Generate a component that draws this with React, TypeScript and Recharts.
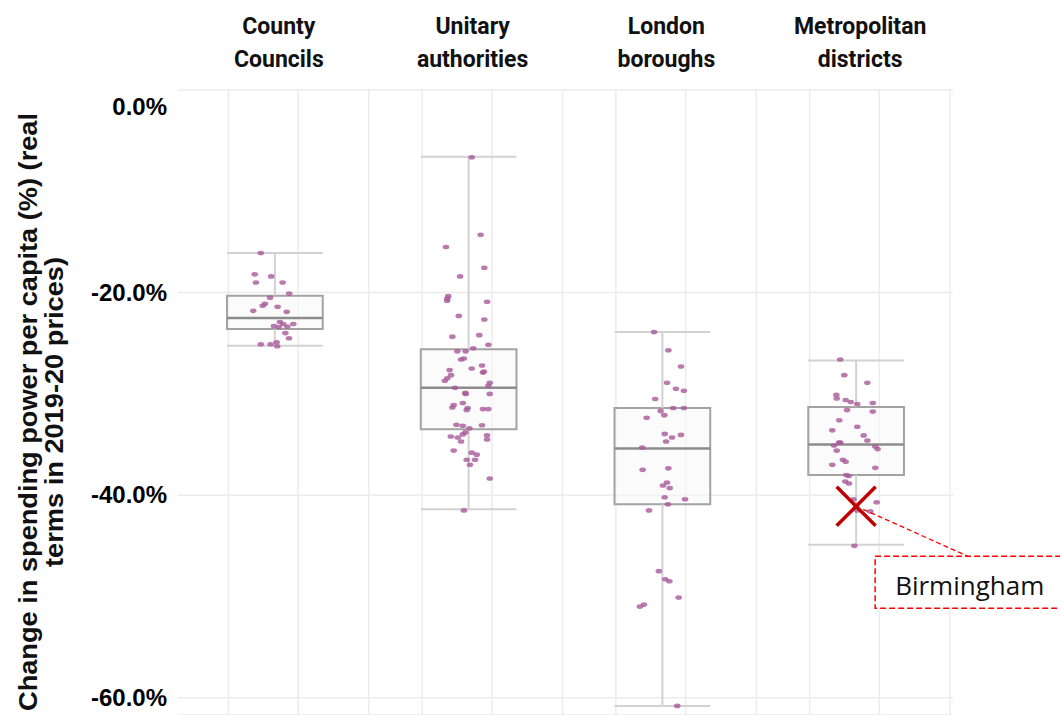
import {
  ComposedChart, Scatter, XAxis, YAxis, CartesianGrid,
  ReferenceArea, ReferenceLine,
} from 'recharts'

// categories along the top axis
const categories = ['County Councils', 'Unitary authorities', 'London boroughs', 'Metropolitan districts']
const yTicks = [0, -20, -40, -60]

// box plot stats (% change), one entry per category
const whiskerHigh = [-16.1, -6.6, -23.9, -26.7]
const upperQuartile = [-20.3, -25.6, -31.4, -31.3]
const medians = [-22.5, -29.4, -35.4, -35.0]
const lowerQuartile = [-23.6, -33.5, -40.9, -38.0]
const whiskerLow = [-25.25, -41.4, -60.8, -44.9]

// individual councils: [horizontal jitter, value]
const countyPoints: [number, number][] = [
  [-0.073, -16.1], [-0.104, -18.2], [-0.019, -18.4], [-0.098, -19.0], [0.04, -19.0],
  [0.074, -20.1], [-0.025, -20.5], [-0.051, -21.1], [-0.063, -21.3], [0.014, -21.4],
  [-0.111, -21.8], [0.061, -21.9], [0.026, -22.9], [0.043, -23.1], [0.095, -23.1],
  [-0.005, -23.3], [0.02, -23.4], [0.064, -23.35], [0.054, -24.0], [0.073, -24.5],
  [-0.073, -25.1], [-0.022, -25.1], [0.009, -24.9], [0.012, -25.3],
]
const unitaryPoints: [number, number][] = [
  [0.016, -6.65], [0.062, -14.3], [-0.117, -15.5], [0.081, -17.55], [-0.044, -18.4],
  [-0.105, -20.35], [-0.11, -20.6], [-0.111, -20.8], [0.095, -20.9], [-0.051, -22.3],
  [0.081, -22.65], [-0.084, -24.35], [0.055, -24.2], [0.102, -25.15], [0.024, -25.5],
  [-0.058, -25.8], [-0.015, -25.8], [-0.039, -26.6], [-0.025, -26.5], [0.016, -27.5],
  [0.069, -27.2], [0.079, -27.8], [0.074, -27.9], [-0.098, -27.65], [-0.091, -28.15],
  [-0.11, -28.45], [-0.123, -28.7], [0.109, -28.9], [0.102, -29.2], [-0.07, -29.4],
  [-0.017, -29.9], [-0.015, -30.0], [0.109, -30.0], [-0.03, -30.9], [-0.077, -31.1],
  [-0.084, -31.35], [-0.005, -31.4], [-0.01, -31.6], [0.074, -31.5], [0.102, -31.5],
  [-0.063, -33.05], [-0.03, -33.15], [0.069, -33.1], [0.004, -33.4], [-0.017, -33.8],
  [-0.03, -34.0], [-0.092, -34.2], [-0.056, -34.3], [-0.039, -34.7], [0.095, -34.1],
  [0.095, -34.5], [-0.077, -35.6], [0.016, -35.8], [0.042, -36.0], [-0.01, -36.5],
  [0.033, -36.5], [0.007, -37.0], [0.109, -38.35], [-0.024, -41.5],
]
const londonPoints: [number, number][] = [
  [-0.043, -23.9], [0.031, -25.7], [0.096, -27.3], [0.024, -28.9], [0.07, -29.5],
  [0.111, -29.7], [-0.037, -30.5], [0.056, -31.4], [0.111, -31.4], [-0.009, -31.7],
  [0.01, -32.1], [-0.081, -32.35], [0.012, -33.95], [0.05, -34.3], [0.096, -34.05],
  [0.019, -34.7], [-0.104, -35.3], [-0.102, -37.5], [0.031, -37.35], [0.024, -38.75],
  [0.003, -39.05], [0.038, -39.3], [0.012, -40.2], [0.117, -40.4], [0.029, -40.9],
  [-0.069, -41.5], [-0.018, -47.5], [0.015, -48.3], [0.036, -48.5], [0.084, -50.1],
  [-0.095, -50.8], [-0.116, -51.0], [0.077, -60.8],
]
const metroPoints: [number, number][] = [
  [-0.082, -26.6], [-0.061, -28.15], [0.058, -28.9], [-0.102, -30.1], [-0.1, -30.45],
  [-0.054, -30.6], [-0.028, -30.8], [0.006, -31.0], [0.086, -30.9], [-0.047, -31.6],
  [0.086, -31.75], [-0.087, -32.6], [0.006, -33.25], [-0.123, -33.6], [0.039, -34.1],
  [0.058, -34.6], [-0.082, -34.8], [-0.088, -34.8], [-0.114, -35.1], [0.099, -35.2],
  [0.111, -35.45], [-0.1, -35.6], [-0.068, -36.5], [-0.054, -36.7], [-0.123, -37.0],
  [0.099, -37.3], [-0.051, -38.0], [-0.038, -38.1], [-0.056, -38.65], [-0.037, -38.85],
  [-0.014, -40.4], [0.001, -41.15], [0.006, -41.5], [0.106, -40.7], [0.073, -41.6],
  [-0.009, -45.0],
]
const pointGroups = [countyPoints, unitaryPoints, londonPoints, metroPoints]

// highlighted council
const highlight = { category: 3, jitter: 0.0, value: -41.1, name: 'Birmingham' }

const BOX_HALF = 0.247
const scatterData = pointGroups.flatMap((pts, i) => pts.map(([j, v]) => ({ x: i + j, y: v })))
const highlightData = [{ x: highlight.category + highlight.jitter, y: highlight.value }]
const gridXs = categories.flatMap((_, i) => [i - 0.24, i + 0.12, i + 0.485])

const boldSans = '"Liberation Sans", Arial, sans-serif'

function CategoryTick({ x, payload }: any) {
  const [first, second] = categories[payload.value].split(' ')
  const style = { fontFamily: 'Roboto, sans-serif', fontWeight: 700, fontSize: 23, fill: '#111' }
  return (
    <g>
      <text x={x + 4} y={34} textAnchor="middle" {...style}>{first}</text>
      <text x={x + 4} y={67} textAnchor="middle" {...style}>{second}</text>
    </g>
  )
}

function ValueTick({ x, y, payload }: any) {
  const shift = payload.value === 0 ? 17 : 0
  return (
    <text x={x} y={y + shift} dy={8} textAnchor="end"
      fontFamily={boldSans} fontWeight={700} fontSize={24} fill="#000">
      {payload.value.toFixed(1)}%
    </text>
  )
}

function AxisTitle() {
  const cy = 412
  const style = { fontFamily: boldSans, fontWeight: 700, fontSize: 25, fill: '#111' }
  return (
    <g>
      <text x={37} y={cy} transform={`rotate(-90 37 ${cy})`} textAnchor="middle"
        textLength={598} lengthAdjust="spacingAndGlyphs" {...style}>
        Change in spending power per capita (%) (real
      </text>
      <text x={63} y={cy} transform={`rotate(-90 63 ${cy})`} textAnchor="middle"
        textLength={310} lengthAdjust="spacingAndGlyphs" {...style}>
        terms in 2019-20 prices)
      </text>
    </g>
  )
}

function Dot({ cx, cy }: any) {
  return <ellipse cx={cx} cy={cy} rx={3.3} ry={2.3} fill="#a85a9a" fillOpacity={0.8} />
}

function HighlightMark({ cx, cy }: any) {
  const s = 19.5
  return (
    <g>
      <line x1={cx - s} y1={cy - s} x2={cx + s} y2={cy + s} stroke="#c00000" strokeWidth={3.5} />
      <line x1={cx - s} y1={cy + s} x2={cx + s} y2={cy - s} stroke="#c00000" strokeWidth={3.5} />
      <line x1={cx + 7} y1={cy + 3} x2={cx + 112} y2={cy + 50}
        stroke="#ff0000" strokeWidth={1.3} strokeDasharray="5 3" />
      <rect x={cx + 19} y={cy + 50} width={200} height={52} fill="#fff"
        stroke="#ff0000" strokeWidth={1.5} strokeDasharray="6 3" />
      <text x={cx + 39} y={cy + 89} fontFamily='"Open Sans", sans-serif' fontSize={26} fill="#111">
        {highlight.name}
      </text>
    </g>
  )
}

export default function App() {
  return (
    <div style={{ position: 'absolute', left: 0, top: 0, background: '#fff' }}>
      <ComposedChart width={1060} height={715} margin={{ top: 0, right: 107, left: 0, bottom: 0 }}>
        <CartesianGrid stroke="#ececec" strokeWidth={1.5} verticalValues={gridXs} />
        <XAxis
          dataKey="x"
          type="number"
          orientation="top"
          domain={[-0.5, 3.5]}
          ticks={[0, 1, 2, 3]}
          height={90}
          axisLine={false}
          tickLine={false}
          tick={<CategoryTick />}
          interval={0}
        />
        <YAxis
          dataKey="y"
          type="number"
          domain={[-61.7, 0]}
          ticks={yTicks}
          width={178}
          axisLine={false}
          tickLine={false}
          tickSize={0}
          tickMargin={11}
          tick={<ValueTick />}
          interval={0}
          label={{ content: () => <AxisTitle /> }}
        />
        {categories.map((c, i) => (
          <ReferenceLine key={`wh-${c}`} segment={[{ x: i, y: upperQuartile[i] }, { x: i, y: whiskerHigh[i] }]}
            stroke="#d2d2d2" strokeWidth={2} />
        ))}
        {categories.map((c, i) => (
          <ReferenceLine key={`wl-${c}`} segment={[{ x: i, y: lowerQuartile[i] }, { x: i, y: whiskerLow[i] }]}
            stroke="#d2d2d2" strokeWidth={2} />
        ))}
        {categories.map((c, i) => (
          <ReferenceLine key={`ch-${c}`} segment={[{ x: i - BOX_HALF, y: whiskerHigh[i] }, { x: i + BOX_HALF, y: whiskerHigh[i] }]}
            stroke="#d2d2d2" strokeWidth={2} />
        ))}
        {categories.map((c, i) => (
          <ReferenceLine key={`cl-${c}`} segment={[{ x: i - BOX_HALF, y: whiskerLow[i] }, { x: i + BOX_HALF, y: whiskerLow[i] }]}
            stroke="#d2d2d2" strokeWidth={2} />
        ))}
        {categories.map((c, i) => (
          <ReferenceArea key={`box-${c}`} x1={i - BOX_HALF} x2={i + BOX_HALF}
            y1={lowerQuartile[i]} y2={upperQuartile[i]}
            fill="#f9f9f9" fillOpacity={0.6} stroke="#a3a3a3" strokeWidth={2} />
        ))}
        {categories.map((c, i) => (
          <ReferenceLine key={`med-${c}`} segment={[{ x: i - BOX_HALF, y: medians[i] }, { x: i + BOX_HALF, y: medians[i] }]}
            stroke="#8c8c8c" strokeWidth={2.5} />
        ))}
        <Scatter data={scatterData} shape={<Dot />} isAnimationActive={false} />
        <Scatter data={highlightData} shape={<HighlightMark />} isAnimationActive={false} />
      </ComposedChart>
    </div>
  )
}
